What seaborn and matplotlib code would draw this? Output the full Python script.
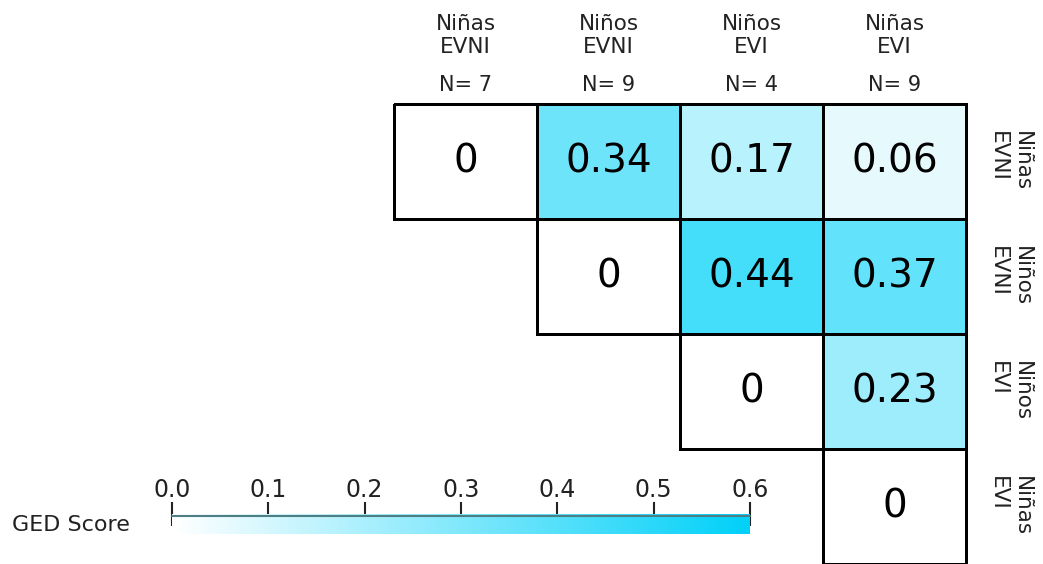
import numpy as np
import pandas as pd
from matplotlib import pyplot as plt
from matplotlib.colors import LinearSegmentedColormap
import seaborn as sns

groups = ['Niñas\nEVNI', 'Niños\nEVNI', 'Niños\nEVI', 'Niñas\nEVI']
sizes = [7, 9, 4, 9]
row_ninas_evni = [0, 0.34, 0.17, 0.06]
row_ninos_evni = [np.nan, 0, 0.44, 0.37]
row_ninos_evi = [np.nan, np.nan, 0, 0.23]
row_ninas_evi = [np.nan, np.nan, np.nan, 0]
cbar_ticks = [0.0, 0.1, 0.2, 0.3, 0.4, 0.5, 0.6]

df = pd.DataFrame([row_ninas_evni, row_ninos_evni, row_ninos_evi, row_ninas_evi],
                  index=groups, columns=groups)
mask = df.isna()
labels = df.map(lambda v: '' if pd.isna(v) else ('0' if v == 0 else f'{v:.2f}'))

sns.set_style('white')
plt.rcParams['font.family'] = ['DejaVu Sans']

fig = plt.figure(figsize=(10.43, 5.64), dpi=100)
ax = fig.add_axes([394 / 1043, 0, 572 / 1043, 460 / 564])
cax = fig.add_axes([172 / 1043, 30 / 564, 578 / 1043, 20 / 564])

cmap = LinearSegmentedColormap.from_list('ged', ['#ffffff', '#00d0f8'])
sns.heatmap(df, mask=mask, annot=labels, fmt='', cmap=cmap, vmin=0, vmax=0.6,
            linewidths=2, linecolor='black',
            annot_kws={'fontsize': 28, 'color': 'black'},
            ax=ax, cbar_ax=cax,
            cbar_kws={'orientation': 'horizontal', 'ticks': cbar_ticks})
mesh = ax.collections[0]
mesh.set_clip_on(False)
# no borders on the hidden lower triangle
edges = np.array([(0, 0, 0, 0) if m else (0, 0, 0, 1) for m in mask.values.ravel()])
mesh.set_edgecolor(edges)

# column headers on top
ax.xaxis.tick_top()
ax.set_xticklabels(groups, rotation=0, fontsize=15.5, color='#222222')
ax.tick_params(axis='x', length=0, pad=34)
for i, n in enumerate(sizes):
    ax.text(i + 0.5, -0.165, f'N= {n}', ha='center', va='center',
            fontsize=15, color='#222222')

# row labels on the right
ax.yaxis.tick_right()
ax.set_yticklabels(groups, rotation=-90, va='center', ha='left',
                   fontsize=15.5, color='#222222')
ax.tick_params(axis='y', length=0, pad=16)

# colorbar
cbar = mesh.colorbar
cbar.outline.set_visible(False)
cax.xaxis.set_ticks_position('top')
cax.set_xticklabels([f'{t:.1f}' for t in cbar_ticks])
cax.tick_params(axis='x', direction='inout', length=17, width=1.5,
                labelsize=17, pad=0, colors='#222222')
cax.axhline(0.9, color='#4d7f85', lw=1.5, clip_on=False)
fig.text(12 / 1043, 1 - 525 / 564, 'GED Score', va='center', fontsize=16,
         color='#222222')

plt.savefig('out.png', dpi=100)
